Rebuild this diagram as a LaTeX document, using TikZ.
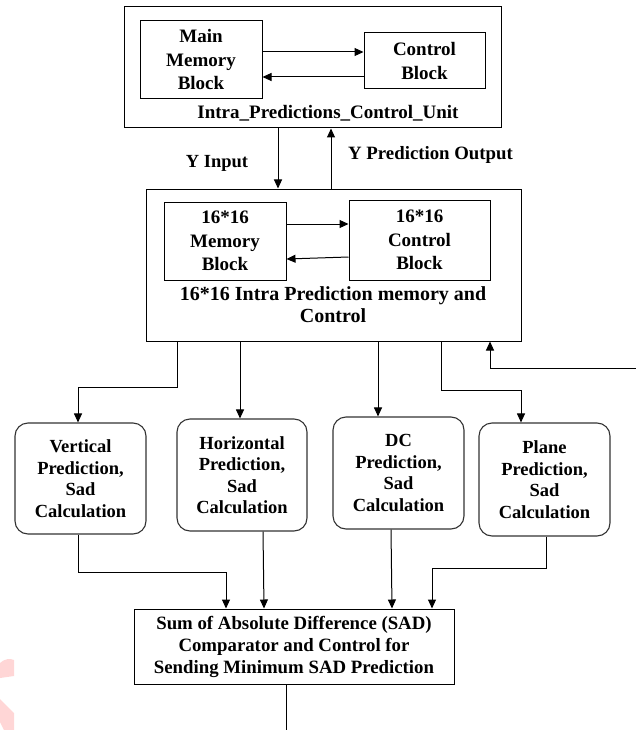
\documentclass[tikz,border=0pt]{standalone}
\usepackage{fontspec}
\setmainfont{Liberation Serif}
\usetikzlibrary{arrows.meta}
\tikzset{
  box/.style={draw, line width=1pt, inner sep=0pt, align=center, font=\bfseries\fontsize{19}{23.5}\selectfont},
  predbox/.style={draw=black!80, line width=1.1pt, rounded corners=13pt, inner sep=0pt, align=center, font=\bfseries\fontsize{18.5}{21.5}\selectfont},
  lbl/.style={inner sep=0pt, align=center, font=\bfseries\fontsize{19}{22}\selectfont},
  arr/.style={line width=1pt, -{Triangle[length=9pt,width=8pt]}},
  ln/.style={line width=1pt},
}
\begin{document}
\begin{tikzpicture}[x=1pt,y=-1pt]
\useasboundingbox (0,0) rectangle (636,730);
% watermark fragment
\fill[red!20!pink!40] (0,663) .. controls (4,659) and (10,658) .. (14,660) -- (14,676) -- (0,678) -- cycle;
\fill[red!20!pink!40] (0,699) -- (14,713) -- (14,730) -- (4,730) -- (0,722) -- cycle;

% top unit
\node[box, minimum width=377pt, minimum height=121pt] (icu) at (312.5,67.5) {};
\node[box, minimum width=122pt, minimum height=78pt] (mmb) at (201,60) {Main\\Memory\\Block};
\node[box, minimum width=121pt, minimum height=56pt] (cb) at (424.5,61) {Control\\Block};
\node[lbl] (icul) at (328,113) {Intra\_Predictions\_Control\_Unit};
\draw[arr] (mmb.east |- 0,52) -- (cb.west |- 0,52);
\draw[arr] (cb.west |- 0,77) -- (mmb.east |- 0,77);

% second unit
\node[box, minimum width=375pt, minimum height=152pt] (mc) at (333.5,265) {};
\node[box, minimum width=122pt, minimum height=78pt] (m16) at (225,241) {16*16\\Memory\\Block};
\node[box, minimum width=141pt, minimum height=80pt] (c16) at (419.5,240) {16*16\\Control\\Block};
\node[lbl, font=\bfseries\fontsize{20}{22}\selectfont] (mcl) at (333,305) {16*16 Intra Prediction memory and\\Control};
\draw[arr] (m16.east |- 0,224) -- (c16.west |- 0,224);
\draw[arr] (c16.west |- 0,257) -- (m16.east |- 0,259);

% Y input / output
\draw[arr] (icu.south -| 278,0) -- (mc.north -| 278,0);
\draw[arr] (mc.north -| 331,0) -- (icu.south -| 331,0);
\node[lbl, font=\bfseries\fontsize{18.5}{22}\selectfont] (yin) at (217,163) {Y Input};
\node[lbl, font=\bfseries\fontsize{18.8}{22}\selectfont, anchor=west] (yout) at (348,155) {Y Prediction Output};

% prediction boxes
\node[predbox, minimum width=131pt, minimum height=111pt] (vp) at (80.5,478.5) {Vertical\\Prediction,\\Sad\\Calculation};
\node[predbox, minimum width=130pt, minimum height=112pt] (hp) at (242,475) {Horizontal\\Prediction,\\Sad\\Calculation};
\node[predbox, minimum width=131pt, minimum height=112pt] (dp) at (398.5,473) {DC\\Prediction,\\Sad\\Calculation};
\node[predbox, minimum width=131pt, minimum height=113pt] (pp) at (544.5,479.5) {Plane\\Prediction,\\Sad\\Calculation};

\draw[arr] (mc.south -| 177,0) -- (177,387) -- (78,387) -- (vp.north -| 78,0);
\draw[arr] (mc.south -| 240,0) -- (hp.north -| 240,0);
\draw[arr] (mc.south -| 378,0) -- (dp.north -| 378,0);
\draw[arr] (mc.south -| 441,0) -- (441,390) -- (521,390) -- (pp.north -| 521,0);

% feedback
\coordinate (fb) at (636,368);
\draw[arr] (fb) -- (490,368) -- (mc.south -| 490,0);

% SAD box
\node[box, minimum width=320pt, minimum height=75pt, font=\bfseries\fontsize{18.8}{22}\selectfont] (sad) at (294,646.5) {Sum of Absolute Difference (SAD)\\Comparator and Control for\\Sending Minimum SAD Prediction};

\draw[arr] (vp.south -| 78,0) -- (78,572) -- (226,572) -- (sad.north -| 226,0);
\draw[arr] (hp.south -| 263,0) -- (sad.north -| 264,0);
\draw[arr] (dp.south -| 391,0) -- (sad.north -| 392,0);
\draw[arr] (pp.south -| 546,0) -- (546,568) -- (432,568) -- (sad.north -| 432,0);

\coordinate (out) at (286,730);
\draw[ln] (sad.south -| 286,0) -- (out);
\end{tikzpicture}
\end{document}
